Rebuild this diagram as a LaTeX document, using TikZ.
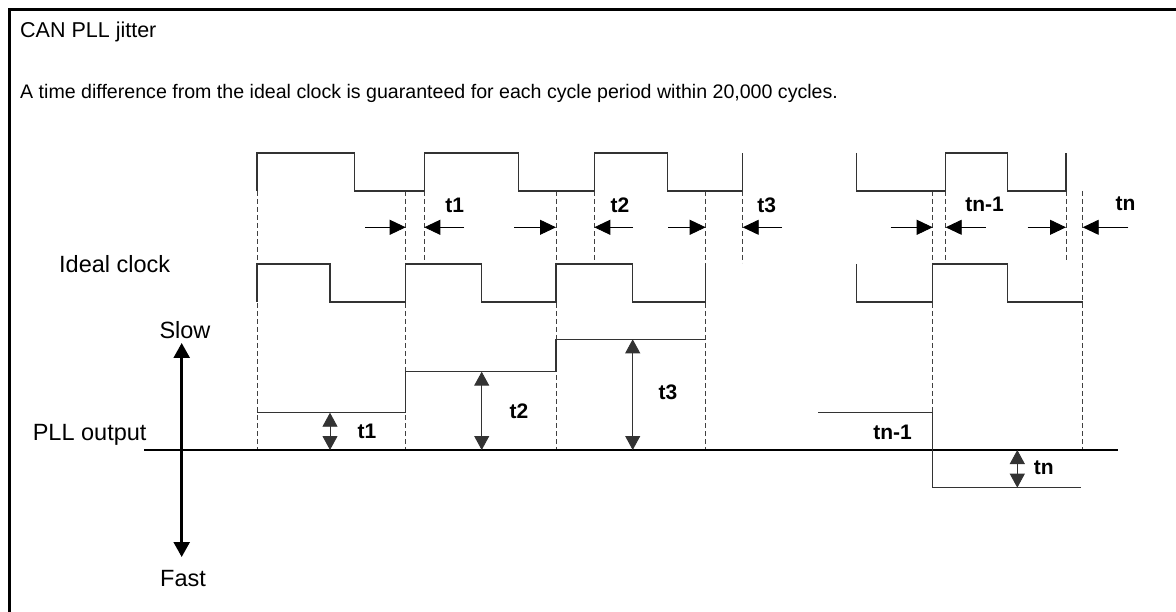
\documentclass[tikz,border=0pt]{standalone}
\usepackage{fontspec}
\setmainfont{Liberation Sans}
\usetikzlibrary{arrows.meta}
\tikzset{
  wave/.style   = { line width=1.1pt, black!80 },
  guide/.style  = { dash pattern=on 5pt off 3pt, line width=0.9pt, black!75 },
  gap/.style    = { line width=0.9pt, -{Triangle[length=16pt,width=15pt]} },
  jit/.style    = { line width=0.9pt, black!80, {Triangle[length=14pt,width=15pt]}-{Triangle[length=14pt,width=15pt]} },
  speed/.style  = { line width=2.5pt, {Triangle[length=15pt,width=16pt]}-{Triangle[length=15pt,width=16pt]} },
  sig/.style    = { font=\fontsize{23.5}{26}\selectfont, inner sep=0pt },
  tlab/.style   = { font=\fontsize{21}{24}\selectfont\bfseries, inner sep=0pt },
  body/.style   = { font=\fontsize{19.6}{22}\selectfont, inner sep=0pt, anchor=base west }
}

\begin{document}
\begin{tikzpicture}[x=1pt,y=-1pt]
    \useasboundingbox (0,0) rectangle (1176,612);
    \draw[line width=3.5pt] (9.5,612) -- (9.5,9.5) -- (1176,9.5);

    \node[body, font=\fontsize{21.5}{24}\selectfont] (title) at (20,37.5) {CAN PLL jitter};
    \node[body] (intro) at (20,98.5) {A time difference from the ideal clock is guaranteed for each cycle period within 20,000 cycles.};

    % guide lines
    \draw[guide] (257,191) -- (257,450);
    \draw[guide] (405.7,191) -- (405.7,450);
    \draw[guide] (424.3,191) -- (424.3,264);
    \draw[guide] (556,191) -- (556,450);
    \draw[guide] (594.3,191) -- (594.3,264);
    \draw[guide] (705.7,191) -- (705.7,450);
    \draw[guide] (742.7,191) -- (742.7,263);
    \draw[guide] (932.7,191) -- (932.7,450);
    \draw[guide] (945.7,191) -- (945.7,264);
    \draw[guide] (1066,191) -- (1066,262);
    \draw[guide] (1082.7,191) -- (1082.7,450);

    % clock with jitter
    \draw[wave] (257,191) -- (257,153) -- (354.3,153) -- (354.3,191) -- (424.3,191) -- (424.3,153)
      -- (518.3,153) -- (518.3,191) -- (594.3,191) -- (594.3,153) -- (667.7,153) -- (667.7,191)
      -- (742.7,191) -- (742.7,153);
    \draw[wave] (856.7,153) -- (856.7,191) -- (945.7,191) -- (945.7,153) -- (1007.3,153)
      -- (1007.3,191) -- (1066,191) -- (1066,153);

    \draw[gap] (365,227.3) -- (405.7,227.3);
    \draw[gap] (464,227.3) -- (424.3,227.3);
    \draw[gap] (514,227.3) -- (556,227.3);
    \draw[gap] (633,227.3) -- (594.3,227.3);
    \draw[gap] (668,227.3) -- (705.7,227.3);
    \draw[gap] (782,227.3) -- (742.7,227.3);
    \draw[gap] (890.7,227.3) -- (932.7,227.3);
    \draw[gap] (985.7,227.3) -- (945.7,227.3);
    \draw[gap] (1027.7,227.3) -- (1066,227.3);
    \draw[gap] (1128.3,227.3) -- (1082.7,227.3);

    \node[tlab] (top1) at (454.7,205) {t1};
    \node[tlab] (top2) at (620,205) {t2};
    \node[tlab] (top3) at (766.7,205) {t3};
    \node[tlab] (topm) at (984.5,204) {tn-1};
    \node[tlab] (topn) at (1125.5,204) {tn};

    % ideal clock
    \node[sig, anchor=base west] (ideal) at (59,273) {Ideal clock};
    \draw[wave] (257,302) -- (257,264) -- (330,264) -- (330,302) -- (405.7,302) -- (405.7,264)
      -- (481.7,264) -- (481.7,302) -- (556,302) -- (556,264) -- (632.3,264) -- (632.3,302)
      -- (705.7,302) -- (705.7,264);
    \draw[wave] (856.7,264) -- (856.7,302) -- (932.7,302) -- (932.7,264) -- (1007.3,264)
      -- (1007.3,302) -- (1082.7,302);

    % PLL output
    \node[sig, anchor=base east] (pll) at (146.7,440) {PLL output};
    \node[sig, anchor=base] (slow) at (185,339) {Slow};
    \node[sig, anchor=base] (fast) at (183,586) {Fast};
    \draw[speed] (181.7,343) -- (181.7,557);
    \draw[line width=1.1pt] (144,450) -- (1118,450);

    \draw[wave] (257,412.7) -- (405.7,412.7) -- (405.7,371.7) -- (556,371.7) -- (556,339.3) -- (705.7,339.3);
    \draw[wave] (818.3,412.7) -- (932.3,412.7) -- (932.3,487.7) -- (1080.7,487.7);

    \draw[jit] (330,412.7) -- (330,450);
    \draw[jit] (481.7,371.7) -- (481.7,450);
    \draw[jit] (632.7,339.3) -- (632.7,450);
    \draw[jit] (1017.3,450) -- (1017.3,487.7);

    \node[tlab] (low1) at (367,431) {t1};
    \node[tlab] (low2) at (519,411) {t2};
    \node[tlab] (low3) at (668,392) {t3};
    \node[tlab] (lowm) at (892.5,432) {tn-1};
    \node[tlab] (lown) at (1043.7,467.5) {tn};
\end{tikzpicture}
\end{document}
